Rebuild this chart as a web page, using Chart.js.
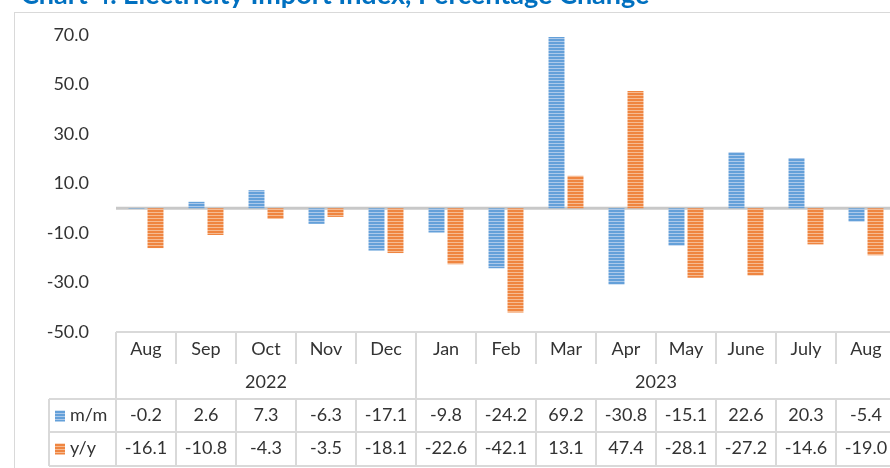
<!DOCTYPE html>
<html>
<head>
<meta charset="utf-8">
<script src="https://cdn.jsdelivr.net/npm/chart.js@4"></script>
<style>
  html, body { margin: 0; padding: 0; background: #fff; overflow: hidden; }
  #wrap { width: 900px; height: 468px; position: relative; }
</style>
</head>
<body>
<div id="wrap"><canvas id="importChart"></canvas></div>
<script>
// Chart data
const months = ['Aug', 'Sep', 'Oct', 'Nov', 'Dec', 'Jan', 'Feb', 'Mar', 'Apr', 'May', 'June', 'July', 'Aug'];
const years = ['2022', '2023'];
const yearSpans = [5, 8];
const seriesNames = ['m/m', 'y/y'];
const momValues = [-0.2, 2.6, 7.3, -6.3, -17.1, -9.8, -24.2, 69.2, -30.8, -15.1, 22.6, 20.3, -5.4];
const yoyValues = [-16.1, -10.8, -4.3, -3.5, -18.1, -22.6, -42.1, 13.1, 47.4, -28.1, -27.2, -14.6, -19.0];
const titleText = 'Chart 4. Electricity Import Index, Percentage Change';

const FONT = 'Lato, "Noto Sans", sans-serif';
const TEXT_COLOR = '#333333';
const LINE_COLOR = '#d9d9d9';

// horizontal striped fill like the Excel pattern
function stripes(dark, light) {
  const c = document.createElement('canvas');
  c.width = 4; c.height = 3;
  const g = c.getContext('2d');
  g.fillStyle = dark;
  g.fillRect(0, 0, 4, 3);
  g.fillStyle = light;
  g.fillRect(0, 2, 4, 1);
  return g.createPattern(c, 'repeat');
}
const bluePattern = stripes('#64a0d9', '#acc9ea');
const orangePattern = stripes('#ef8540', '#f6bb92');

const tablePlugin = {
  id: 'tablePlugin',
  beforeDraw(chart) {
    const ctx = chart.ctx;
    ctx.save();
    // outer frame
    ctx.strokeStyle = LINE_COLOR;
    ctx.lineWidth = 1;
    ctx.strokeRect(14.5, 12.5, 1000, 1000);
    // title (cut off at the top)
    ctx.fillStyle = '#0070c0';
    let size = 23;
    ctx.font = 'bold ' + size + 'px ' + FONT;
    while (ctx.measureText(titleText).width < 628 && size < 30) {
      size += 0.5;
      ctx.font = 'bold ' + size + 'px ' + FONT;
    }
    ctx.textBaseline = 'alphabetic';
    ctx.textAlign = 'left';
    ctx.fillText(titleText, 21, 4);
    ctx.restore();
  },
  beforeDatasetsDraw(chart) {
    // zero line
    const ctx = chart.ctx;
    const area = chart.chartArea;
    const y0 = chart.scales.y.getPixelForValue(0);
    ctx.save();
    ctx.strokeStyle = '#c8c8c8';
    ctx.lineWidth = 3;
    ctx.beginPath();
    ctx.moveTo(area.left, y0);
    ctx.lineTo(area.right, y0);
    ctx.stroke();
    ctx.restore();
  },
  afterDraw(chart) {
    const ctx = chart.ctx;
    const x = chart.scales.x;
    const area = chart.chartArea;
    const colW = x.getPixelForValue(1) - x.getPixelForValue(0);
    const left = area.left;
    const right = left + colW * months.length;
    const top = area.bottom;
    const catBottom = top + 32;
    const row1 = top + 67;
    const row2 = top + 100;
    const row3 = top + 134;
    const keyLeft = 49;

    ctx.save();
    ctx.strokeStyle = LINE_COLOR;
    ctx.lineWidth = 2;
    const line = (x1, y1, x2, y2) => {
      ctx.beginPath();
      ctx.moveTo(x1, y1);
      ctx.lineTo(x2, y2);
      ctx.stroke();
    };

    line(left, top, right, top);
    line(keyLeft, row1, right, row1);
    line(keyLeft, row2, right, row2);
    line(keyLeft, row3, right, row3);
    line(left, top, left, row3);
    line(keyLeft, row1, keyLeft, row3);

    // column boundaries
    for (let i = 1; i <= months.length; i++) {
      const bx = left + colW * i;
      line(bx, top, bx, catBottom);
      line(bx, row1, bx, row3);
    }
    // year boundaries
    let acc = 0;
    yearSpans.forEach(span => {
      acc += span;
      const bx = left + colW * acc;
      line(bx, top, bx, row1);
    });

    ctx.fillStyle = TEXT_COLOR;
    ctx.font = '18px ' + FONT;
    ctx.textAlign = 'center';
    ctx.textBaseline = 'middle';

    months.forEach((m, i) => {
      ctx.fillText(m, x.getPixelForValue(i), top + 17);
    });

    let start = 0;
    years.forEach((yr, i) => {
      const x1 = left + colW * start;
      const x2 = left + colW * (start + yearSpans[i]);
      ctx.fillText(yr, (x1 + x2) / 2, top + 50);
      start += yearSpans[i];
    });

    const rows = [[momValues, row1, bluePattern], [yoyValues, row2, orangePattern]];
    rows.forEach(([vals, rowTop, pat], r) => {
      const cy = rowTop + 16.5;
      ctx.textAlign = 'center';
      ctx.fillStyle = TEXT_COLOR;
      vals.forEach((v, i) => {
        ctx.fillText(v.toFixed(1), x.getPixelForValue(i), cy);
      });
      // legend key
      ctx.fillStyle = pat;
      ctx.fillRect(55, cy - 5, 10, 11);
      ctx.fillStyle = TEXT_COLOR;
      ctx.textAlign = 'left';
      ctx.fillText(seriesNames[r], 70, cy);
    });
    ctx.restore();
  }
};

new Chart(document.getElementById('importChart'), {
  type: 'bar',
  data: {
    labels: months,
    datasets: [{
      label: seriesNames[0],
      data: momValues,
      backgroundColor: bluePattern,
      borderWidth: 0
    }, {
      label: seriesNames[1],
      data: yoyValues,
      backgroundColor: orangePattern,
      borderWidth: 0
    }]
  },
  options: {
    responsive: true,
    maintainAspectRatio: false,
    animation: false,
    datasets: {
      bar: {
        categoryPercentage: 0.633,
        barPercentage: 0.84
      }
    },
    layout: {
      padding: { top: 35, bottom: 136, left: 0, right: 4 }
    },
    plugins: {
      legend: { display: false },
      tooltip: { enabled: false },
      title: { display: false }
    },
    scales: {
      x: {
        display: false
      },
      y: {
        min: -50,
        max: 70,
        afterFit(scale) { scale.width = 116; },
        ticks: {
          stepSize: 20,
          padding: 19,
          color: TEXT_COLOR,
          font: { family: FONT, size: 18 },
          callback: v => Number(v).toFixed(1)
        },
        border: { display: false },
        grid: { display: false }
      }
    }
  },
  plugins: [tablePlugin]
});
</script>
</body>
</html>
